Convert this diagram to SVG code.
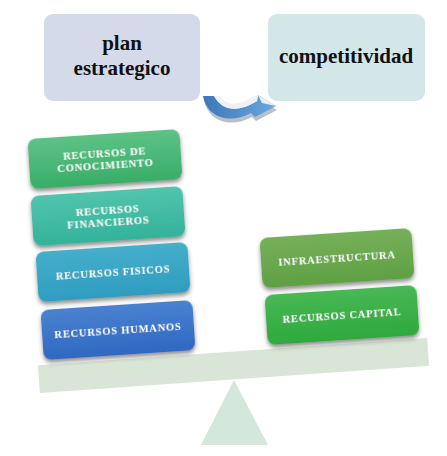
<svg xmlns="http://www.w3.org/2000/svg" width="447" height="456" viewBox="0 0 447 456">
<defs>
<style>
.top{font-family:"Liberation Serif","Times New Roman",serif;font-weight:bold;fill:#111;text-anchor:middle}
.lbl{font-family:"Liberation Serif","Times New Roman",serif;font-weight:bold;font-size:10.5px;fill:#fff;text-anchor:middle;letter-spacing:0.8px}
.box{filter:url(#sh)}
</style>
<filter id="sh" x="-20%" y="-30%" width="140%" height="170%">
<feDropShadow dx="0" dy="3" stdDeviation="2" flood-color="#444" flood-opacity="0.6"/>
</filter>
<linearGradient id="g1" x1="0" y1="0" x2="0" y2="1"><stop offset="0" stop-color="#5EC286"/><stop offset="1" stop-color="#38AE68"/></linearGradient>
<linearGradient id="g2" x1="0" y1="0" x2="0" y2="1"><stop offset="0" stop-color="#52C4AE"/><stop offset="1" stop-color="#33B39A"/></linearGradient>
<linearGradient id="g3" x1="0" y1="0" x2="0" y2="1"><stop offset="0" stop-color="#46AECB"/><stop offset="1" stop-color="#2E9DC0"/></linearGradient>
<linearGradient id="g4" x1="0" y1="0" x2="0" y2="1"><stop offset="0" stop-color="#4A82D0"/><stop offset="1" stop-color="#2F68C2"/></linearGradient>
<linearGradient id="g5" x1="0" y1="0" x2="0" y2="1"><stop offset="0" stop-color="#76B05A"/><stop offset="1" stop-color="#5FA043"/></linearGradient>
<linearGradient id="g6" x1="0" y1="0" x2="0" y2="1"><stop offset="0" stop-color="#48B855"/><stop offset="1" stop-color="#2FA93D"/></linearGradient>
<linearGradient id="ga" x1="0" y1="0" x2="1" y2="0"><stop offset="0" stop-color="#3E78B8"/><stop offset="1" stop-color="#6AA8DE"/></linearGradient>
</defs>

<g id="balance">
<rect x="-195" y="-14" width="390" height="28" fill="#D9E5D6" transform="translate(233.5,365.5) rotate(-4)"/>
<polygon points="234,380 201,445 268,445" fill="#D3E7DB"/>
</g>

<g id="plan">
<rect x="44" y="14" width="156" height="87" rx="9" fill="#D5DAEA"/>
<text class="top" font-size="21" x="122" y="50">plan</text>
<text class="top" font-size="21" x="122" y="75">estrategico</text>
</g>

<g id="competitividad">
<rect x="268" y="14" width="157" height="87" rx="9" fill="#D4E7E8"/>
<text class="top" font-size="21" x="346" y="63">competitividad</text>
</g>

<g id="connectors">
<path d="M204 100 C208 121 230 129 252 117 L256 121 L277 110 L259 99 L258 105 C240 116 224 116 215 100 Z" fill="#9AA6B4" opacity="0.7"/>
<path d="M203 96 C207 117 229 125 251 113 L255 117 L276 106 L258 95 L257 101 C239 112 223 112 214 96 Z" fill="url(#ga)"/>
<path d="M214 96 C223 112 239 112 257 101 L258 95 L252 97 C238 106 226 106 220 96 Z" fill="#EEF2F6"/>
<path d="M258 95 L276 106 L262 103 Z" fill="#E8EEF4"/>
</g>

<g id="conocimiento" class="box" transform="translate(105,159) rotate(-3.8)">
<rect x="-76" y="-25" width="152" height="50" rx="8" fill="url(#g1)"/>
<text class="lbl" x="0" y="-2">RECURSOS  DE</text>
<text class="lbl" x="0" y="10">CONOCIMIENTO</text>
</g>

<g id="financieros" class="box" transform="translate(108,216) rotate(-3.8)">
<rect x="-76" y="-25" width="152" height="50" rx="8" fill="url(#g2)"/>
<text class="lbl" x="0" y="-2">RECURSOS</text>
<text class="lbl" x="0" y="10">FINANCIEROS</text>
</g>

<g id="fisicos" class="box" transform="translate(113,272) rotate(-3.8)">
<rect x="-76" y="-25" width="152" height="50" rx="8" fill="url(#g3)"/>
<text class="lbl" x="0" y="4">RECURSOS  FISICOS</text>
</g>

<g id="humanos" class="box" transform="translate(118,330) rotate(-3.8)">
<rect x="-76" y="-25" width="152" height="50" rx="8" fill="url(#g4)"/>
<text class="lbl" x="0" y="4">RECURSOS  HUMANOS</text>
</g>

<g id="infraestructura" class="box" transform="translate(337,258) rotate(-3.8)">
<rect x="-76" y="-25" width="152" height="50" rx="8" fill="url(#g5)"/>
<text class="lbl" x="0" y="4">INFRAESTRUCTURA</text>
</g>

<g id="capital" class="box" transform="translate(342,315) rotate(-3.8)">
<rect x="-76" y="-25" width="152" height="50" rx="8" fill="url(#g6)"/>
<text class="lbl" x="0" y="4">RECURSOS  CAPITAL</text>
</g>
</svg>
